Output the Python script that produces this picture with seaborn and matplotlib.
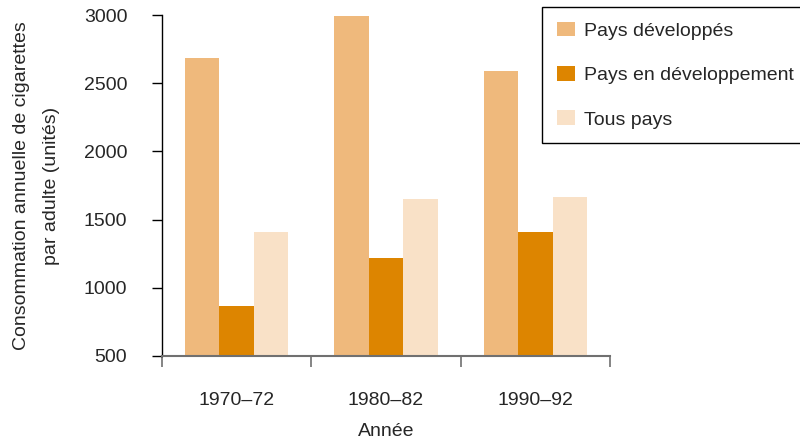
import pandas as pd
import matplotlib.pyplot as plt
import seaborn as sns
from matplotlib.patches import Patch

# données
periodes = ['1970–72', '1980–82', '1990–92']
series = ['Pays développés', 'Pays en développement', 'Tous pays']
pays_developpes = [2685, 2990, 2590]
pays_en_dev = [867, 1218, 1410]
tous_pays = [1409, 1651, 1666]
couleurs = ['#EFB97C', '#DD8500', '#F9E1C7']

rows = []
for nom, vals in zip(series, [pays_developpes, pays_en_dev, tous_pays]):
    for p, v in zip(periodes, vals):
        rows.append({'Année': p, 'serie': nom, 'valeur': v})
df = pd.DataFrame(rows)

sns.set_style('ticks')
plt.rcParams['font.family'] = ['Liberation Sans', 'DejaVu Sans']

fig = plt.figure(figsize=(8, 4.45), dpi=100)
ax = fig.add_axes([162 / 800, 1 - 356 / 445, 448 / 800, 341 / 445])

sns.barplot(data=df, x='Année', y='valeur', hue='serie', order=periodes,
            hue_order=series, palette=couleurs, width=0.69, gap=0,
            saturation=1, legend=False, ax=ax, linewidth=0)

ax.set_ylim(500, 3000)
ax.set_yticks(range(500, 3001, 500))
ax.set_xlim(-0.5, 2.5)

# ticks majeurs aux limites des groupes, libellés sur les ticks mineurs
ax.set_xticks([-0.5, 0.5, 1.5, 2.5])
ax.set_xticklabels([])
ax.set_xticks([0, 1, 2], minor=True)
ax.set_xticklabels(periodes, minor=True)
ax.tick_params(axis='x', which='major', length=8, width=1.2, color='#707070')
ax.tick_params(axis='x', which='minor', length=0, pad=26, labelsize=14)
ax.tick_params(axis='y', length=7, width=1, color='black', pad=18, labelsize=14)

for s in ['top', 'right']:
    ax.spines[s].set_visible(False)
ax.spines['left'].set_color('black')
ax.spines['left'].set_linewidth(1)
ax.spines['bottom'].set_color('#707070')
ax.spines['bottom'].set_linewidth(1.5)

ax.set_xlabel('Année', fontsize=14, labelpad=10)
ax.set_ylabel('Consommation annuelle de cigarettes\npar adulte (unités)',
              fontsize=14, labelpad=17, linespacing=2.0)

handles = [Patch(facecolor=c, edgecolor='none') for c in couleurs]
leg = fig.legend(handles, series, loc='upper left',
                 bbox_to_anchor=(542 / 800, 1 - 7 / 445), fontsize=14,
                 frameon=True, fancybox=False, framealpha=1, edgecolor='black',
                 handlelength=0.95, handleheight=0.8, handletextpad=0.45,
                 labelspacing=1.35, borderpad=0.75, borderaxespad=0)
leg.get_frame().set_linewidth(1)

fig.savefig('out.png', dpi=100)
